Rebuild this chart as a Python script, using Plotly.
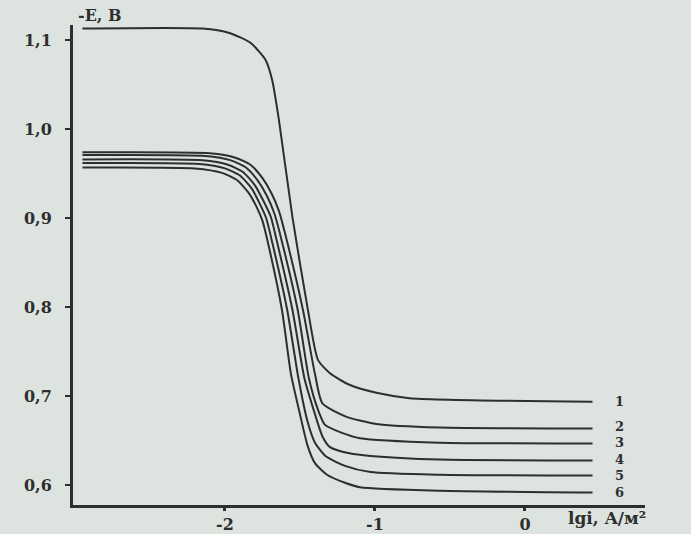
import plotly.graph_objects as go

# Curve data: lg i (A/m^2) vs -E (V)
c1_x = [-2.95, -2.15, -1.97, -1.83, -1.73, -1.685, -1.64, -1.55, -1.45, -1.38, -1.30, -1.17, -0.99, -0.77, 0.45]
c1_y = [1.113, 1.113, 1.108, 1.097, 1.078, 1.055, 1.010, 0.901, 0.800, 0.741, 0.726, 0.713, 0.704, 0.698, 0.694]

c2_x = [-2.95, -2.10, -1.93, -1.83, -1.75, -1.69, -1.64, -1.595, -1.48, -1.40, -1.35, -1.19, -0.99, -0.57, 0.45]
c2_y = [0.974, 0.973, 0.968, 0.960, 0.945, 0.928, 0.908, 0.880, 0.797, 0.725, 0.692, 0.677, 0.669, 0.665, 0.664]

c3_x = [-2.95, -2.13, -1.96, -1.86, -1.78, -1.72, -1.67, -1.625, -1.515, -1.44, -1.38, -1.333, -1.22, -1.10, -0.57, 0.45]
c3_y = [0.971, 0.970, 0.965, 0.957, 0.942, 0.925, 0.905, 0.877, 0.797, 0.720, 0.685, 0.668, 0.659, 0.653, 0.648, 0.647]

c4_x = [-2.95, -2.15, -1.98, -1.88, -1.80, -1.745, -1.695, -1.655, -1.55, -1.47, -1.40, -1.35, -1.30, -1.17, -1.03, -0.57, 0.45]
c4_y = [0.966, 0.965, 0.960, 0.952, 0.937, 0.920, 0.902, 0.875, 0.797, 0.720, 0.680, 0.655, 0.643, 0.636, 0.633, 0.629, 0.628]

c5_x = [-2.95, -2.17, -2.00, -1.90, -1.82, -1.77, -1.725, -1.685, -1.585, -1.51, -1.45, -1.40, -1.33, -1.20, -1.03, -0.57, 0.45]
c5_y = [0.962, 0.961, 0.956, 0.948, 0.933, 0.917, 0.900, 0.873, 0.797, 0.720, 0.672, 0.648, 0.633, 0.622, 0.615, 0.612, 0.611]

c6_x = [-2.95, -2.20, -2.02, -1.92, -1.84, -1.79, -1.75, -1.71, -1.62, -1.56, -1.50, -1.45, -1.40, -1.32, -1.20, -1.10, -0.57, 0.45]
c6_y = [0.957, 0.956, 0.951, 0.943, 0.928, 0.913, 0.897, 0.870, 0.797, 0.725, 0.680, 0.645, 0.625, 0.612, 0.603, 0.598, 0.594, 0.592]

curve_labels = ["1", "2", "3", "4", "5", "6"]
label_y = [0.694, 0.666, 0.648, 0.629, 0.611, 0.592]
label_x = 0.63

x_ticks = [-2, -1, 0]
x_tick_text = ["-2", "-1", "0"]
y_ticks = [0.6, 0.7, 0.8, 0.9, 1.0, 1.1]
y_tick_text = ["0,6", "0,7", "0,8", "0,9", "1,0", "1,1"]

ink = "#2e2e2e"
paper = "#dde4e0"
font_fam = "DejaVu Serif"

fig = go.Figure()
series = [(c1_x, c1_y), (c2_x, c2_y), (c3_x, c3_y), (c4_x, c4_y), (c5_x, c5_y), (c6_x, c6_y)]
for (xs, ys), name in zip(series, curve_labels):
    fig.add_trace(go.Scatter(x=xs, y=ys, mode="lines", name=name,
                             line=dict(color=ink, width=2, shape="spline", smoothing=0.6),
                             showlegend=False, hoverinfo="skip"))

for lab, ly in zip(curve_labels, label_y):
    fig.add_annotation(x=label_x, y=ly, text=lab, showarrow=False, xanchor="center", yanchor="middle",
                       font=dict(family=font_fam, size=13, color=ink, weight="bold"))

fig.add_annotation(xref="paper", yref="paper", x=(76 - 73) / 572, y=1 + (25 - 16) / 480,
                   text="-E, В", showarrow=False, xanchor="left", yanchor="middle",
                   font=dict(family=font_fam, size=16, color=ink, weight="bold"))
fig.add_annotation(xref="paper", yref="paper", x=(566 - 73) / 572, y=-(518 - 505) / 480,
                   text="lgi, A/м²", showarrow=False, xanchor="left", yanchor="middle",
                   font=dict(family=font_fam, size=17, color=ink, weight="bold"))

fig.update_layout(
    width=691, height=534,
    margin=dict(l=73, r=46, t=25, b=29),
    paper_bgcolor=paper, plot_bgcolor=paper,
    xaxis=dict(range=[-3.013, 0.80], tickvals=x_ticks, ticktext=x_tick_text, automargin=False,
               showgrid=False, zeroline=False, showline=True, linecolor=ink, linewidth=3,
               ticks="outside", ticklen=3, tickwidth=3, tickcolor=ink, ticklabelstandoff=0,
               tickfont=dict(family=font_fam, size=16, color=ink, weight="bold")),
    yaxis=dict(range=[0.578, 1.117], tickvals=y_ticks, ticktext=y_tick_text, automargin=False,
               showgrid=False, zeroline=False, showline=True, linecolor=ink, linewidth=3,
               ticks="outside", ticklen=5, tickwidth=2, tickcolor=ink, ticklabelstandoff=10,
               tickfont=dict(family=font_fam, size=16, color=ink, weight="bold")),
)

fig.write_html("out.html", config={"displayModeBar": False},
               post_script="document.body.style.margin='0';document.body.style.overflow='hidden';")
